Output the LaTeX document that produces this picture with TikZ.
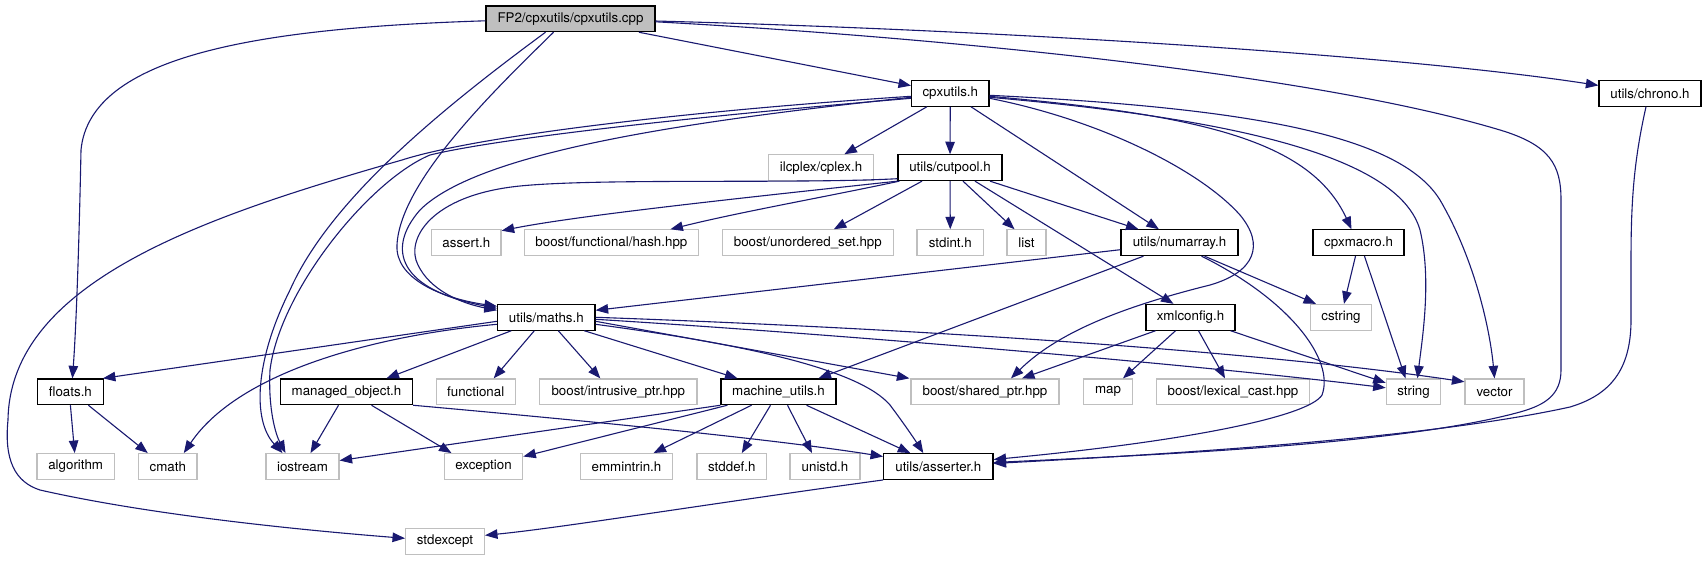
\documentclass[tikz,border=0pt]{standalone}
\usepackage{fontspec}
\setmainfont{TeX Gyre Heros}
\usetikzlibrary{arrows.meta}
\definecolor{edgec}{HTML}{191970}
\definecolor{extc}{HTML}{BFBFBF}
\begin{document}
\begin{tikzpicture}[x=1pt,y=-1pt,
  box/.style={rectangle,inner sep=0pt,minimum height=25.7pt,font=\fontsize{13.33}{16}\selectfont,line width=1.2pt},
  doc/.style={box,draw=black,fill=white},
  ext/.style={box,draw=extc,fill=white},
  mainbox/.style={box,draw=black,fill=extc},
  edge/.style={draw=edgec,line width=1.1pt,-{Triangle[length=12.5pt,width=9.5pt]}}]
\useasboundingbox[fill=white] (0,0) rectangle (1705,560);
% row 0
\node[mainbox,minimum width=169pt] (cpp) at (570.5,18.8) {FP2/cpxutils/cpxutils.cpp};
% row 1
\node[doc,minimum width=77.4pt] (cpxutils) at (950.3,93.3) {cpxutils.h};
\node[doc,minimum width=102pt] (chrono) at (1650,93.3) {utils/chrono.h};
% row 2
\node[ext,minimum width=105pt] (ilcplex) at (821,167.7) {ilcplex/cplex.h};
\node[doc,minimum width=104pt] (cutpool) at (950,167.7) {utils/cutpool.h};
% row 3
\node[ext,minimum width=69.3pt] (assert) at (466.4,242.7) {assert.h};
\node[ext,minimum width=173.6pt] (hash) at (611.4,242.7) {boost/functional/hash.hpp};
\node[ext,minimum width=170.7pt] (unordered) at (807.8,242.7) {boost/unordered\_set.hpp};
\node[ext,minimum width=66.6pt] (stdint) at (950.3,242.7) {stdint.h};
\node[ext,minimum width=39pt] (list) at (1026.5,242.7) {list};
\node[doc,minimum width=117pt] (numarray) at (1179.5,242.7) {utils/numarray.h};
\node[doc,minimum width=91pt] (cpxmacro) at (1358.5,242.7) {cpxmacro.h};
% row 4
\node[doc,minimum width=97.5pt] (maths) at (546.3,317.3) {utils/maths.h};
\node[doc,minimum width=89pt] (xmlconfig) at (1190.5,317.3) {xmlconfig.h};
\node[ext,minimum width=61.5pt] (cstring) at (1341,317.3) {cstring};
% row 5
\node[doc,minimum width=65.8pt] (floats) at (70.4,391.8) {floats.h};
\node[doc,minimum width=132pt] (managed) at (346.5,391.8) {managed\_object.h};
\node[ext,minimum width=79pt] (functional) at (475.7,391.8) {functional};
\node[ext,minimum width=157.4pt] (intrusive) at (618.3,391.8) {boost/intrusive\_ptr.hpp};
\node[doc,minimum width=115pt] (machine) at (778.5,391.8) {machine\_utils.h};
\node[ext,minimum width=148pt] (shared) at (985,391.8) {boost/shared\_ptr.hpp};
\node[ext,minimum width=48.6pt] (map) at (1108,391.8) {map};
\node[ext,minimum width=153.4pt] (lexical) at (1233,391.8) {boost/lexical\_cast.hpp};
\node[ext,minimum width=54.5pt] (string) at (1413.5,391.8) {string};
\node[ext,minimum width=59pt] (vector) at (1494.5,391.8) {vector};
% row 6
\node[ext,minimum width=77.4pt] (algorithm) at (75.7,466.5) {algorithm};
\node[ext,minimum width=58.5pt] (cmath) at (167.8,466.5) {cmath};
\node[ext,minimum width=73pt] (iostream) at (302.5,466.5) {iostream};
\node[ext,minimum width=78.5pt] (exception) at (483.5,466.5) {exception};
\node[ext,minimum width=92pt] (emmintrin) at (626.5,466.5) {emmintrin.h};
\node[ext,minimum width=69.6pt] (stddef) at (731.8,466.5) {stddef.h};
\node[ext,minimum width=70pt] (unistd) at (825,466.5) {unistd.h};
\node[doc,minimum width=109.3pt] (asserter) at (938.3,466.5) {utils/asserter.h};
% row 7
\node[ext,minimum width=78.8pt] (stdexcept) at (445,541.3) {stdexcept};

% edges from cpp
\draw[edge] (cpp) -- (cpxutils);
\draw[edge] (cpp) .. controls (1000,30) and (1400,55) .. (chrono);
\draw[edge] ([yshift=-3pt]cpp.east) .. controls (900,35) and (1300,70) .. (1500,130) .. controls (1550,145) and (1561,165) .. (1561,200) -- (1561,370) .. controls (1561,395) and (1545,405) .. (1520,412) .. controls (1400,445) and (1150,455) .. ([yshift=4pt]asserter.east);
\draw[edge] ([yshift=-2pt]cpp.west) .. controls (260,28) and (90,55) .. (81,150) .. controls (79,250) and (76,330) .. ([xshift=2pt]floats.north);
\draw[edge] ([xshift=-17pt]cpp.south) .. controls (500,85) and (400,180) .. (397,245) .. controls (395,278) and (440,298) .. ([yshift=11pt]maths.west);
\draw[edge] ([xshift=-25pt]cpp.south) .. controls (440,110) and (330,200) .. (290,290) .. controls (255,360) and (252,420) .. ([xshift=-20pt]iostream.north);
% chrono
\draw[edge] ([xshift=-4pt]chrono.south) .. controls (1634,160) and (1631,200) .. (1631,260) -- (1631,320) .. controls (1631,370) and (1610,395) .. (1570,407) .. controls (1420,440) and (1150,455) .. ([yshift=3pt]asserter.east);
% cpxutils
\draw[edge] ([yshift=-4pt]cpxutils.west) .. controls (700,120) and (480,150) .. (420,210) .. controls (385,250) and (400,290) .. ([yshift=9pt]maths.west);
\draw[edge] ([yshift=-5pt]cpxutils.west) .. controls (700,116) and (500,138) .. (430,155) .. controls (370,180) and (280,290) .. (270,370) .. controls (268,410) and (276,435) .. ([xshift=-17pt]iostream.north);
\draw[edge] ([yshift=-3pt]cpxutils.west) .. controls (700,110) and (480,135) .. (402,160) .. controls (210,215) and (10,280) .. (8,420) .. controls (4,460) and (15,482) .. (40,490) .. controls (150,515) and (300,530) .. ([yshift=3pt]stdexcept.west);
\draw[edge] (cpxutils) -- (ilcplex);
\draw[edge] (cpxutils) -- (cutpool);
\draw[edge] (cpxutils) -- (numarray);
\draw[edge] ([yshift=-3pt]cpxutils.east) .. controls (1200,115) and (1310,140) .. ([xshift=-7pt]cpxmacro.north);
\draw[edge] ([yshift=-4pt]cpxutils.east) .. controls (1250,120) and (1400,160) .. (1420,230) .. controls (1432,280) and (1422,340) .. ([xshift=4pt]string.north);
\draw[edge] ([yshift=-2pt]cpxutils.east) .. controls (1250,108) and (1400,135) .. (1440,200) .. controls (1475,260) and (1490,330) .. (vector.north);
\draw[edge] ([yshift=-5pt]cpxutils.east) .. controls (1100,120) and (1200,170) .. (1240,215) .. controls (1265,245) and (1255,272) .. (1210,285) .. controls (1130,305) and (1060,330) .. ([xshift=26pt]shared.north);
% cutpool
\draw[edge] ([yshift=-11pt]cutpool.west) .. controls (800,184) and (600,178) .. (520,186) .. controls (430,195) and (405,240) .. (418,265) .. controls (430,290) and (460,303) .. ([yshift=7pt]maths.west);
\draw[edge] (cutpool.south west) .. controls (760,196) and (580,215) .. ([yshift=12pt]assert.east);
\draw[edge] ([xshift=2pt]cutpool.south west) .. controls (820,198) and (740,212) .. ([xshift=59pt]hash.north);
\draw[edge] ([xshift=-28pt]cutpool.south) -- ([xshift=26pt]unordered.north);
\draw[edge] (cutpool) -- (stdint);
\draw[edge] ([xshift=13pt]cutpool.south) -- ([xshift=-12pt]list.north);
\draw[edge] ([xshift=40pt]cutpool.south) -- ([xshift=-41pt]numarray.north);
\draw[edge] ([xshift=25pt]cutpool.south) -- ([xshift=-17pt]xmlconfig.north);
% numarray
\draw[edge] ([yshift=-7pt]numarray.west) -- ([yshift=7pt]maths.east);
\draw[edge] ([xshift=-36pt]numarray.south) -- ([xshift=40pt]machine.north);
\draw[edge] ([xshift=25pt]numarray.south) -- ([xshift=-25pt]cstring.north);
\draw[edge] ([xshift=22pt]numarray.south) .. controls (1290,300) and (1335,360) .. (1322,395) .. controls (1310,415) and (1200,440) .. ([yshift=7pt]asserter.east);
% cpxmacro
\draw[edge] ([xshift=-3pt]cpxmacro.south) -- ([xshift=3pt]cstring.north);
\draw[edge] ([xshift=6pt]cpxmacro.south) -- ([xshift=-8pt]string.north);
% xmlconfig
\draw[edge] ([xshift=-35pt]xmlconfig.south) -- ([xshift=37pt]shared.north);
\draw[edge] ([xshift=-15pt]xmlconfig.south) -- ([xshift=15pt]map.north);
\draw[edge] ([xshift=8pt]xmlconfig.south) -- ([xshift=-8pt]lexical.north);
\draw[edge] ([xshift=-5pt]xmlconfig.south east) -- ([yshift=9pt]string.west);
% maths
\draw[edge] ([yshift=-4pt]maths.west) -- ([xshift=-1pt]floats.north east);
\draw[edge] ([yshift=-7pt]maths.west) .. controls (380,335) and (240,370) .. ([xshift=16pt]cmath.north);
\draw[edge] ([xshift=-35pt]maths.south) -- ([xshift=40pt]managed.north);
\draw[edge] ([xshift=-12pt]maths.south) -- ([xshift=18pt]functional.north);
\draw[edge] ([xshift=12pt]maths.south) -- ([xshift=-18pt]intrusive.north);
\draw[edge] ([xshift=38pt]maths.south) -- ([xshift=-41pt]machine.north);
\draw[edge] ([yshift=-4pt]maths.east) -- ([xshift=-1pt]shared.north west);
\draw[edge] ([yshift=-7pt]maths.east) .. controls (750,345) and (860,370) .. (890,405) .. controls (905,425) and (915,440) .. ([xshift=-15pt]asserter.north);
\draw[edge] ([yshift=-2pt]maths.east) .. controls (850,335) and (1200,365) .. ([yshift=4pt]string.west);
\draw[edge] (maths.east) .. controls (900,328) and (1250,350) .. ([yshift=10pt]vector.west);
% managed_object
\draw[edge] ([xshift=-8pt]managed.south) -- ([xshift=8pt]iostream.north);
\draw[edge] ([xshift=25pt]managed.south) -- ([xshift=-32pt]exception.north);
\draw[edge] (managed.south east) .. controls (600,422) and (780,440) .. ([yshift=10pt]asserter.west);
% machine_utils
\draw[edge] (machine.south west) -- ([yshift=6pt]iostream.east);
\draw[edge] ([xshift=7pt]machine.south west) -- ([yshift=10pt]exception.east);
\draw[edge] ([xshift=-27pt]machine.south) -- ([xshift=27pt]emmintrin.north);
\draw[edge] ([xshift=-8pt]machine.south) -- ([xshift=10pt]stddef.north);
\draw[edge] ([xshift=9pt]machine.south) -- ([xshift=-13pt]unistd.north);
\draw[edge] ([xshift=28pt]machine.south) -- ([xshift=-28pt]asserter.north);
% asserter
\draw[edge] (asserter.south west) .. controls (700,505) and (560,528) .. ([yshift=6pt]stdexcept.east);
% floats
\draw[edge] (floats.south) -- ([xshift=-1pt]algorithm.north);
\draw[edge] ([xshift=18pt]floats.south) -- ([xshift=-20pt]cmath.north);
\end{tikzpicture}
\end{document}
